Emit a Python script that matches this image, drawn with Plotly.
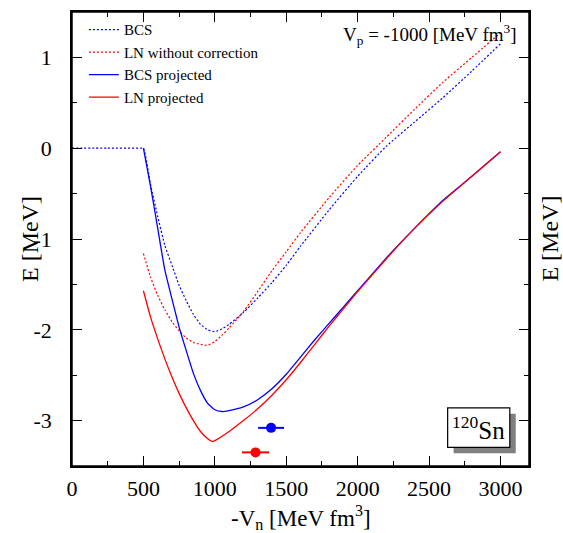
import plotly.graph_objects as go

FONT = "Liberation Serif"

# BCS (dashed blue)
x_bcs = [0, 250, 480, 500, 550, 600, 650, 700, 750, 800, 850, 900, 950, 1000, 1050, 1100, 1200, 1300,
         1400, 1500, 1600, 1800, 2000, 2200, 2400, 2600, 2800, 3000]
y_bcs = [0.0, 0.0, 0.0, 0.0, -0.40, -0.75, -1.07, -1.29, -1.51, -1.68, -1.83, -1.94, -2.00, -2.02,
         -1.99, -1.94, -1.81, -1.65, -1.48, -1.29, -1.08, -0.68, -0.31, 0.02, 0.29, 0.56, 0.85, 1.15]

# LN without correction (dashed red)
x_ln = [500, 550, 600, 650, 700, 750, 800, 850, 900, 950, 1000, 1050, 1100, 1200, 1300, 1400,
        1500, 1600, 1800, 2000, 2200, 2400, 2600, 2800, 3000]
y_ln = [-1.16, -1.42, -1.62, -1.78, -1.91, -2.01, -2.09, -2.14, -2.16, -2.17, -2.13, -2.06, -1.98,
        -1.80, -1.58, -1.35, -1.14, -0.93, -0.545, -0.19, 0.12, 0.43, 0.73, 1.00, 1.27]

# BCS projected (solid blue)
x_bcsp = [500, 550, 600, 650, 700, 750, 800, 850, 900, 950, 1000, 1050, 1100, 1200, 1300, 1400,
          1500, 1600, 1700, 1800, 1900, 2000, 2200, 2400, 2600, 2800, 3000]
y_bcsp = [0.0, -0.42, -0.88, -1.34, -1.66, -1.97, -2.23, -2.48, -2.67, -2.81, -2.88, -2.90, -2.89,
          -2.85, -2.77, -2.65, -2.49, -2.30, -2.11, -1.93, -1.75, -1.57, -1.21, -0.88, -0.57, -0.31, -0.04]

# LN projected (solid red)
x_lnp = [500, 550, 600, 650, 700, 750, 800, 850, 900, 950, 980, 1000, 1100, 1200, 1300, 1400,
         1500, 1600, 1700, 1800, 1900, 2000, 2200, 2400, 2600, 2800, 3000]
y_lnp = [-1.57, -1.86, -2.10, -2.32, -2.52, -2.70, -2.86, -3.00, -3.12, -3.20, -3.23, -3.22, -3.12,
         -3.00, -2.87, -2.72, -2.55, -2.36, -2.16, -1.96, -1.77, -1.58, -1.22, -0.88, -0.58, -0.31, -0.04]

# points with horizontal error bars
pt_blue_x, pt_blue_y, pt_blue_err = [1394], [-3.08], [91]
pt_red_x, pt_red_y, pt_red_err = [1285], [-3.35], [95]

xticks = [0, 500, 1000, 1500, 2000, 2500, 3000]
yticks = [-3, -2, -1, 0, 1]
ytick_text = ["-3", "-2", "-1", "0", "1"]
XRANGE = [0, 3200]
YRANGE = [-3.5, 1.5]

BLUE = "#0000ff"
RED = "#ff0000"

fig = go.Figure()
fig.add_trace(go.Scatter(x=x_bcs, y=y_bcs, mode="lines", name="BCS",
                         line=dict(color=BLUE, width=1.2, dash="2px,2px", shape="spline", smoothing=0.5)))
fig.add_trace(go.Scatter(x=x_ln, y=y_ln, mode="lines", name="LN without correction",
                         line=dict(color=RED, width=1.2, dash="2px,2px", shape="spline", smoothing=0.5)))
fig.add_trace(go.Scatter(x=x_bcsp, y=y_bcsp, mode="lines", name="BCS projected",
                         line=dict(color=BLUE, width=1.3, shape="spline", smoothing=0.5)))
fig.add_trace(go.Scatter(x=x_lnp, y=y_lnp, mode="lines", name="LN projected",
                         line=dict(color=RED, width=1.3, shape="spline", smoothing=0.5)))
fig.add_trace(go.Scatter(x=pt_blue_x, y=pt_blue_y, mode="markers", showlegend=False,
                         marker=dict(color=BLUE, size=10),
                         error_x=dict(type="data", array=pt_blue_err, color=BLUE, thickness=2, width=0)))
fig.add_trace(go.Scatter(x=pt_red_x, y=pt_red_y, mode="markers", showlegend=False,
                         marker=dict(color=RED, size=10),
                         error_x=dict(type="data", array=pt_red_err, color=RED, thickness=2, width=0)))

minor_x = dict(dtick=250, ticks="inside", ticklen=5, tickcolor="black", tickwidth=1.2)
minor_y = dict(dtick=0.5, ticks="inside", ticklen=5, tickcolor="black", tickwidth=1.2)

fig.update_layout(
    xaxis=dict(range=XRANGE, tickvals=xticks, ticklabelstandoff=2,
               showline=True, linecolor="black", linewidth=1.5, mirror="allticks",
               ticks="inside", ticklen=10, tickwidth=1.2, tickcolor="black",
               showgrid=False, zeroline=False,
               tickfont=dict(family=FONT, size=22, color="black"), minor=minor_x),
    yaxis=dict(range=YRANGE, tickvals=yticks, ticktext=ytick_text, ticklabelstandoff=14,
               showline=True, linecolor="black", linewidth=1.5, mirror="allticks",
               ticks="inside", ticklen=10, tickwidth=1.2, tickcolor="black",
               showgrid=False, zeroline=False,
               tickfont=dict(family=FONT, size=22, color="black"), minor=minor_y),
    width=563, height=533,
    margin=dict(l=72, r=34, t=10, b=67),
    plot_bgcolor="white", paper_bgcolor="white",
    font=dict(family=FONT, color="black"),
    legend=dict(x=0.026, y=0.997, xanchor="left", yanchor="top", bgcolor="rgba(0,0,0,0)",
                font=dict(family=FONT, size=15, color="black"), tracegroupgap=0,
                itemwidth=30),
    shapes=[
        dict(type="rect", xref="paper", yref="paper", x0=0, x1=1, y0=0, y1=1,
             line=dict(color="black", width=1.5), fillcolor="rgba(0,0,0,0)", layer="above"),
        dict(type="rect", xref="paper", yref="paper", x0=0.835, x1=0.971, y0=0.028, y1=0.115,
             fillcolor="#808080", line=dict(width=0), layer="above"),
        dict(type="rect", xref="paper", yref="paper", x0=0.822, x1=0.958, y0=0.041, y1=0.128,
             fillcolor="white", line=dict(color="black", width=1.2), layer="above"),
    ],
    annotations=[
        dict(text="V<sub>p</sub> = -1000 [MeV fm<sup>3</sup>]", xref="paper", yref="paper",
             x=0.978, y=0.985, xanchor="right", yanchor="top", showarrow=False,
             font=dict(family=FONT, size=19, color="black")),
        dict(text="<sup>120</sup>Sn", xref="paper", yref="paper", x=0.89, y=0.0845,
             xanchor="center", yanchor="middle", showarrow=False,
             font=dict(family=FONT, size=25, color="black")),
        dict(text="-V<sub>n</sub> [MeV fm<sup>3</sup>]", xref="paper", yref="paper",
             x=0.5, y=-0.113, xanchor="center", yanchor="middle", showarrow=False,
             font=dict(family=FONT, size=23, color="black")),
        dict(text="E [MeV]", xref="paper", yref="paper", x=-0.092, y=0.5, textangle=-90,
             xanchor="center", yanchor="middle", showarrow=False,
             font=dict(family=FONT, size=24, color="black")),
        dict(text="E [MeV]", xref="paper", yref="paper", x=1.045, y=0.5, textangle=-90,
             xanchor="center", yanchor="middle", showarrow=False,
             font=dict(family=FONT, size=24, color="black")),
    ],
)

fig.write_html("out.html")
